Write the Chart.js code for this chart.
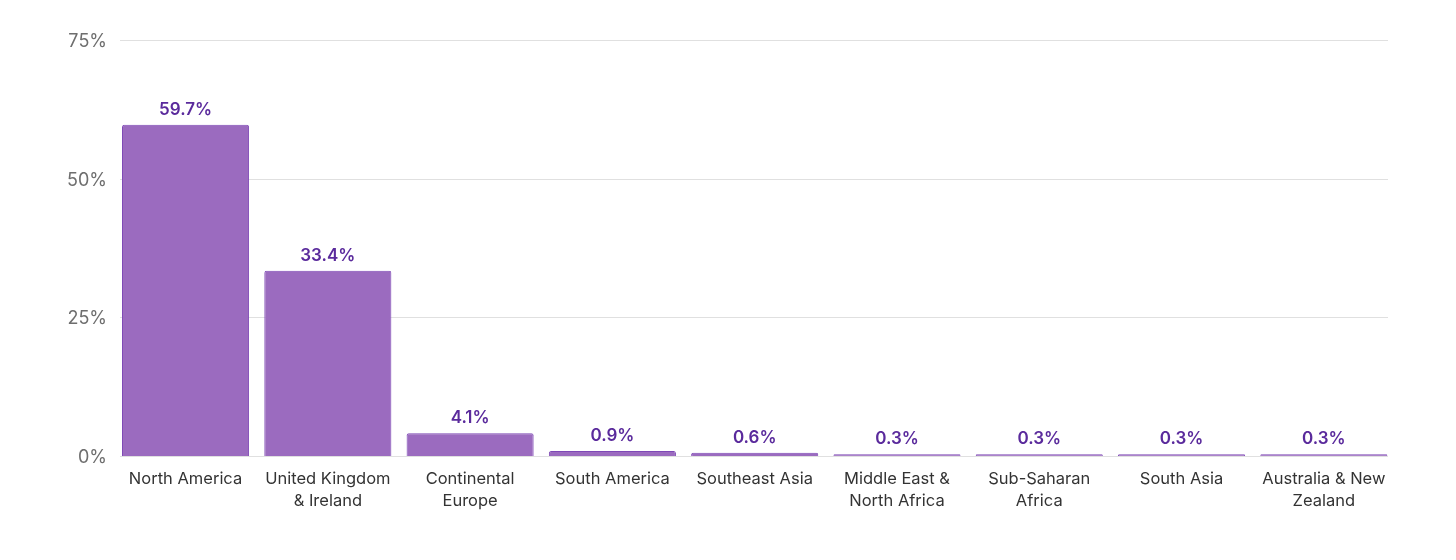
<!DOCTYPE html>
<html>
<head>
<meta charset="utf-8">
<script src="https://cdn.jsdelivr.net/npm/chart.js@4/dist/chart.umd.min.js"></script>
<style>
  html, body { margin: 0; padding: 0; background: #ffffff; }
  #wrap { width: 1456px; height: 560px; position: relative; }
</style>
</head>
<body>
<div id="wrap"><canvas id="c" width="1456" height="560"></canvas></div>
<script>
const categories = [
  ["North America"],
  ["United Kingdom", "& Ireland"],
  ["Continental", "Europe"],
  ["South America"],
  ["Southeast Asia"],
  ["Middle East &", "North Africa"],
  ["Sub-Saharan", "Africa"],
  ["South Asia"],
  ["Australia & New", "Zealand"]
];
const shareValues = [59.7, 33.4, 4.1, 0.9, 0.6, 0.3, 0.3, 0.3, 0.3];
const yTicks = [0, 25, 50, 75];
const yTickLabels = ["0%", "25%", "50%", "75%"];

const FONT = 'Inter, "Noto Sans", sans-serif';

// horizontal gridlines and y labels, positioned by the y scale
const gridLines = {
  id: 'gridLines',
  beforeDatasetsDraw(chart) {
    const ctx = chart.ctx;
    const y = chart.scales.y;
    ctx.save();
    ctx.strokeStyle = '#e0e0e0';
    ctx.lineWidth = 1;
    ctx.font = '18px ' + FONT;
    ctx.fillStyle = '#6e6e6e';
    ctx.textAlign = 'right';
    ctx.textBaseline = 'middle';
    yTicks.forEach((v, i) => {
      const py = Math.round(y.getPixelForValue(v)) + 0.5;
      ctx.beginPath();
      ctx.moveTo(120, py);
      ctx.lineTo(1388, py);
      ctx.stroke();
      ctx.fillText(yTickLabels[i], 107, py + 1.5);
    });
    ctx.restore();
  }
};

const valueLabels = {
  id: 'valueLabels',
  afterDatasetsDraw(chart) {
    const ctx = chart.ctx;
    const meta = chart.getDatasetMeta(0);
    ctx.save();
    ctx.font = '600 17px ' + FONT;
    ctx.fillStyle = '#5a2a9c';
    ctx.textAlign = 'center';
    ctx.textBaseline = 'alphabetic';
    meta.data.forEach((bar, i) => {
      ctx.fillText(shareValues[i].toFixed(1) + '%', bar.x, bar.y - 10);
    });
    ctx.restore();
  }
};

new Chart(document.getElementById('c'), {
  type: 'bar',
  data: {
    labels: categories,
    datasets: [{
      data: shareValues,
      backgroundColor: '#9b6bbf',
      borderColor: '#7e48b6',
      borderWidth: 1,
      borderRadius: { topLeft: 2, topRight: 2, bottomLeft: 0, bottomRight: 0 },
      borderSkipped: 'bottom',
      categoryPercentage: 1.0,
      barPercentage: 0.893
    }]
  },
  options: {
    responsive: false,
    animation: false,
    devicePixelRatio: 1,
    layout: { padding: { top: 40, right: 61, bottom: 0, left: 0 } },
    plugins: {
      legend: { display: false },
      tooltip: { enabled: false }
    },
    scales: {
      x: {
        grid: { display: false, drawTicks: false },
        border: { display: false },
        ticks: {
          color: '#333333',
          padding: 12,
          maxRotation: 0,
          autoSkip: false,
          font: { family: FONT, size: 16.5, lineHeight: 1.34 }
        },
        afterFit(scale) { scale.height = 104; }
      },
      y: {
        min: 0,
        max: 75,
        afterBuildTicks(scale) { scale.ticks = yTicks.map(v => ({ value: v })); },
        grid: { display: false, drawTicks: false },
        border: { display: false },
        ticks: { display: false },
        afterFit(scale) { scale.width = 114.4; }
      }
    }
  },
  plugins: [gridLines, valueLabels]
});
</script>
</body>
</html>
